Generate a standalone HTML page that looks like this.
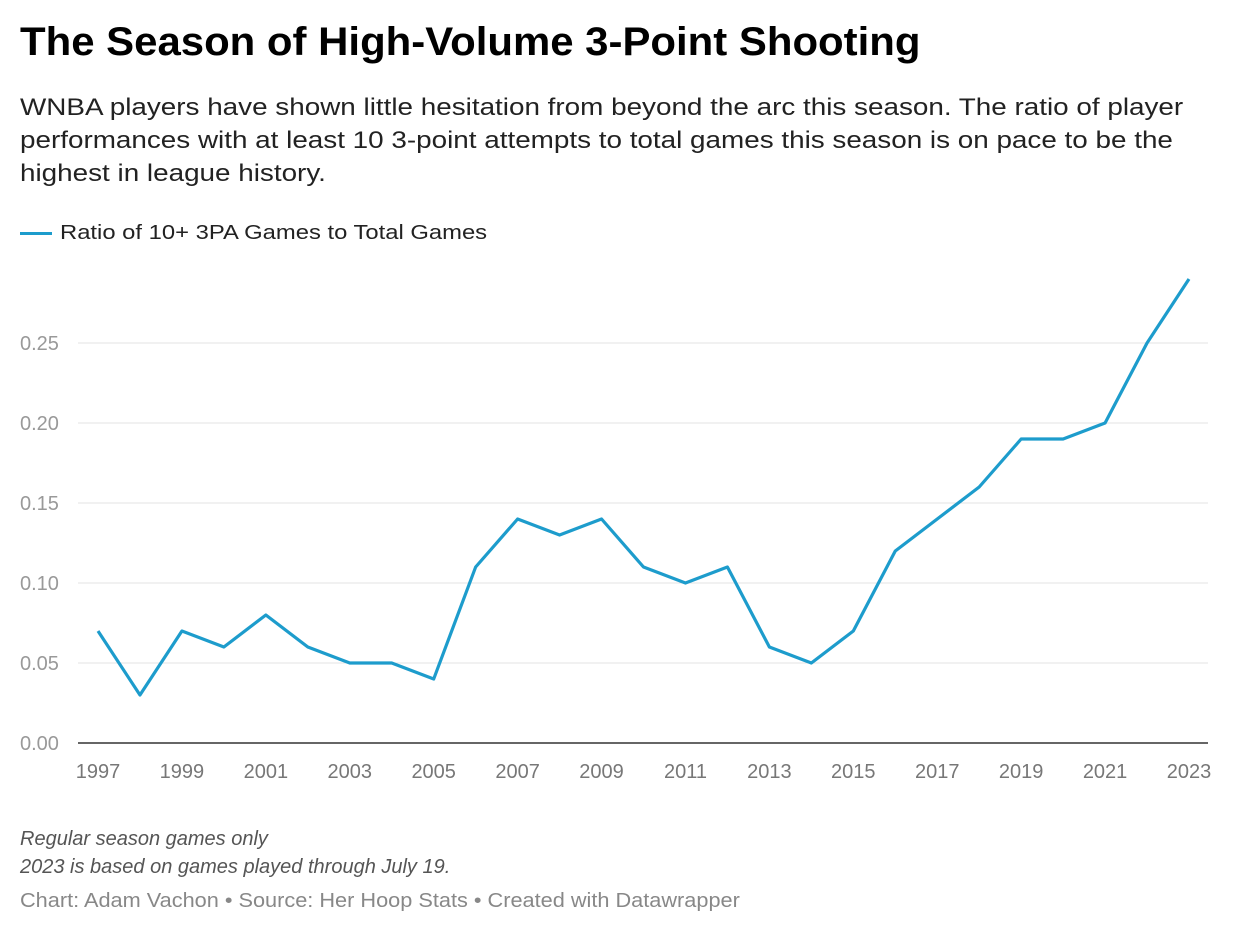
<!DOCTYPE html>
<html><head><meta charset="utf-8">
<style>
body{margin:0;width:1240px;height:936px;background:#fff;font-family:"Liberation Sans",Arial,sans-serif;position:relative;overflow:hidden}
.t{position:absolute;left:20px;white-space:nowrap;transform-origin:0 0}
</style></head><body>
<div class="t" style="top:20px;font-size:40px;font-weight:bold;color:#000;transform:scaleX(1.048)">The Season of High-Volume 3-Point Shooting</div>
<div class="t" style="top:91px;font-size:24px;line-height:33px;color:#222;transform:scaleX(1.16)">WNBA players have shown little hesitation from beyond the arc this season. The ratio of player<br>performances with at least 10 3-point attempts to total games this season is on pace to be the<br>highest in league history.</div>
<div class="t" style="top:222px;font-size:20px;color:#222;left:20px"><span style="display:inline-block;width:32px;height:3px;background:#1d9ccc;vertical-align:middle;margin-right:8px"></span><span style="display:inline-block;transform:scaleX(1.19);transform-origin:0 0">Ratio of 10+ 3PA Games to Total Games</span></div>
<svg id="chart" width="1240" height="800" style="position:absolute;left:0;top:0"></svg>
<div class="t" style="top:825px;font-size:20px;line-height:28px;font-style:italic;color:#555">Regular season games only<br>2023 is based on games played through July 19.</div>
<div class="t" style="top:890px;font-size:20px;color:#888;transform:scaleX(1.086)">Chart: Adam Vachon • Source: Her Hoop Stats • Created with Datawrapper</div>
<script>
const years=[1997,1998,1999,2000,2001,2002,2003,2004,2005,2006,2007,2008,2009,2010,2011,2012,2013,2014,2015,2016,2017,2018,2019,2020,2021,2022,2023];
const ratios=[0.07,0.03,0.07,0.06,0.08,0.06,0.05,0.05,0.04,0.11,0.14,0.13,0.14,0.11,0.10,0.11,0.06,0.05,0.07,0.12,0.14,0.16,0.19,0.19,0.20,0.25,0.29];
const yTicks=[0,0.05,0.10,0.15,0.20,0.25];
const xTicks=[1997,1999,2001,2003,2005,2007,2009,2011,2013,2015,2017,2019,2021,2023];
const svg=document.getElementById('chart');const NS='http://www.w3.org/2000/svg';
const x=v=>98+(v-1997)*(1189-98)/26;
const y=v=>743-v*1600;
function mk(t,a){const e=document.createElementNS(NS,t);for(const k in a)e.setAttribute(k,a[k]);svg.appendChild(e);return e;}
yTicks.forEach(v=>{
  const l=mk('line',{x1:78,x2:1208,y1:y(v),y2:y(v),stroke:v===0?'#333':'#e3e3e3','stroke-width':v===0?1.5:1});
  
  
  const t=mk('text',{x:20,y:y(v)+7,'font-size':20,fill:'#999','font-family':'Liberation Sans, sans-serif'});
  t.textContent=v.toFixed(2);
  
  
});
xTicks.forEach(v=>{
  const t=mk('text',{x:x(v),y:778,'font-size':20,fill:'#777','text-anchor':'middle','font-family':'Liberation Sans, sans-serif'});
  t.textContent=v;
  
  
});
const p=mk('polyline',{points:years.map((yr,i)=>x(yr)+','+y(ratios[i])).join(' '),fill:'none',stroke:'#1d9ccc','stroke-width':3.2,'stroke-linejoin':'round'});


</script>
</body></html>
